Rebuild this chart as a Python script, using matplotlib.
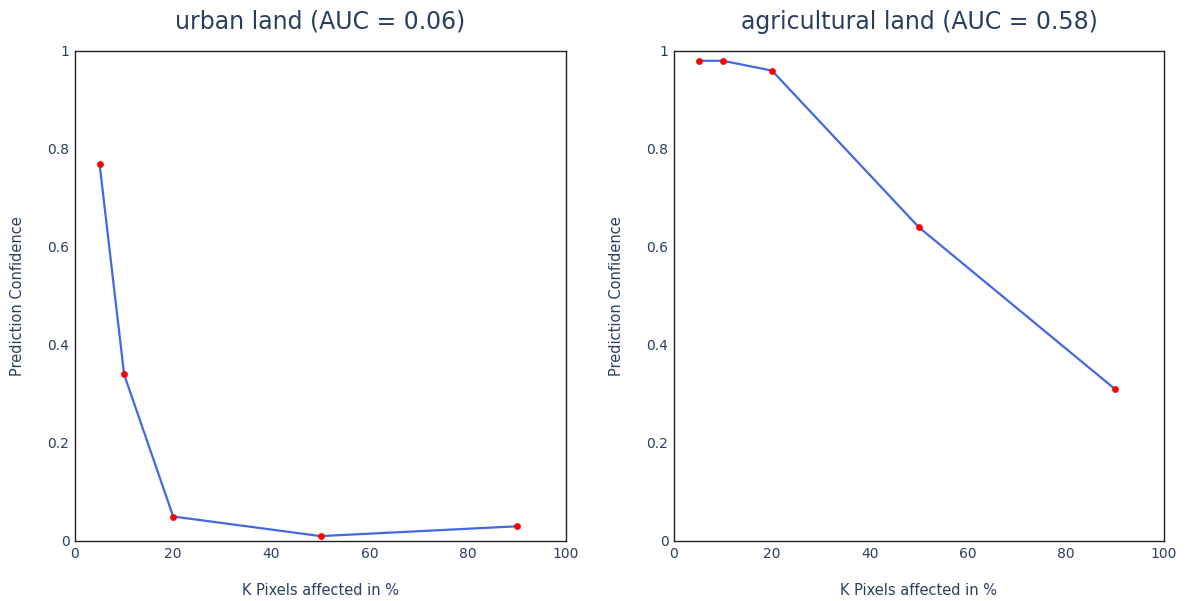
import matplotlib.pyplot as plt
from matplotlib.ticker import FuncFormatter

# данные
k_pixels = [5, 10, 20, 50, 90]
urban_conf = [0.77, 0.34, 0.05, 0.01, 0.03]
agri_conf = [0.98, 0.98, 0.96, 0.64, 0.31]
titles = ['urban land (AUC = 0.06)', 'agricultural land (AUC = 0.58)']
x_ticks = [0, 20, 40, 60, 80, 100]
y_ticks = [0, 0.2, 0.4, 0.6, 0.8, 1]

text_color = '#2a3f5f'
plt.rcParams['font.family'] = ['DejaVu Sans']

fig = plt.figure(figsize=(11.87, 6.01), dpi=100)
ax1 = fig.add_axes([75 / 1187, 1 - 541 / 601, 491 / 1187, 490 / 601])
ax2 = fig.add_axes([674 / 1187, 1 - 541 / 601, 490 / 1187, 490 / 601])

fmt = FuncFormatter(lambda v, p: f'{v:g}')

for ax, conf, title in zip([ax1, ax2], [urban_conf, agri_conf], titles):
    ax.plot(k_pixels, conf, color='#4169e1', linewidth=1.6, zorder=2)
    ax.scatter(k_pixels, conf, color='red', s=24, zorder=3, linewidths=0)
    ax.set_xlim(0, 100)
    ax.set_ylim(0, 1)
    ax.set_xticks(x_ticks)
    ax.set_yticks(y_ticks)
    ax.xaxis.set_major_formatter(fmt)
    ax.yaxis.set_major_formatter(fmt)
    ax.tick_params(length=0, pad=4, labelsize=10, colors=text_color)
    for s in ax.spines.values():
        s.set_color('#222222')
        s.set_linewidth(1.0)
    ax.set_title(title, fontsize=17, color=text_color, pad=16)
    ax.set_xlabel('K Pixels affected in %', fontsize=10.5, color=text_color, labelpad=16)
    ax.set_ylabel('Prediction Confidence', fontsize=10.5, color=text_color, labelpad=16)

fig.savefig('out.png', dpi=100)
